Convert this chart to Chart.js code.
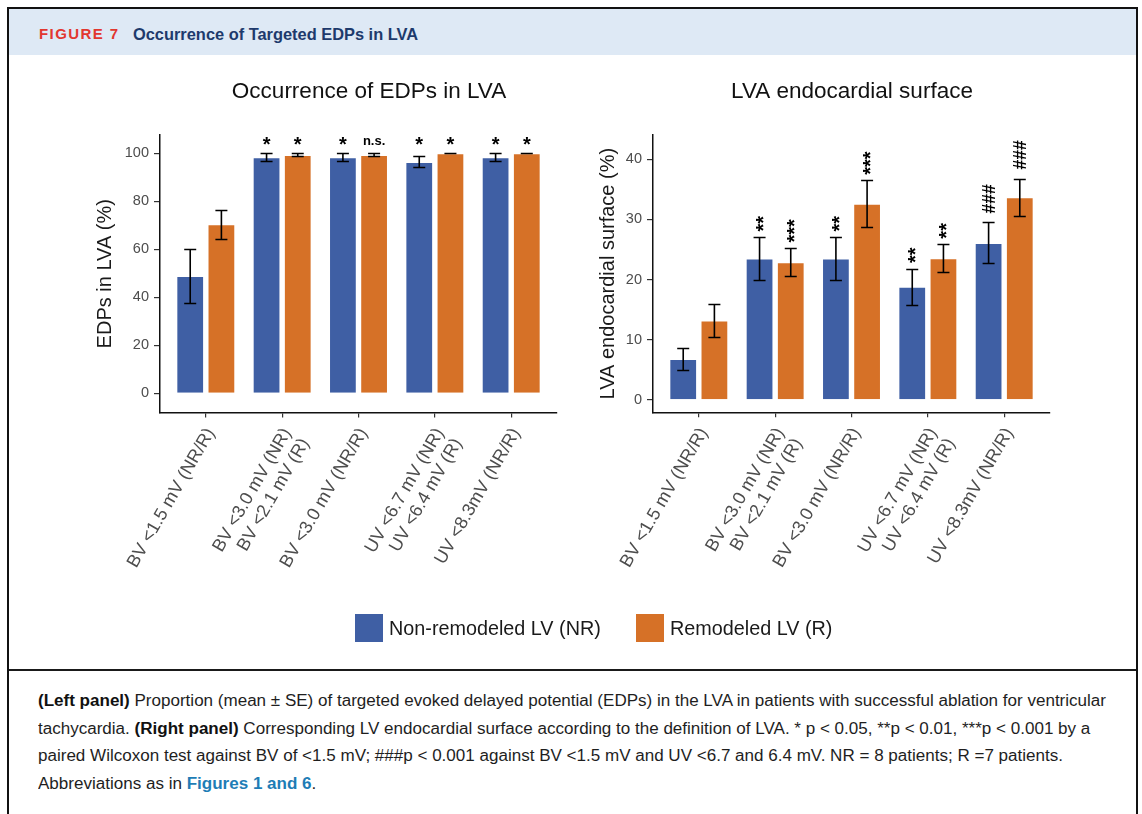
<!DOCTYPE html>
<html>
<head>
<meta charset="utf-8">
<title>Occurrence of Targeted EDPs in LVA</title>
<script src="https://cdn.jsdelivr.net/npm/chart.js@4.4.1/dist/chart.umd.min.js"></script>
<style>
  html, body { margin: 0; padding: 0; background: #fff; }
  #page { position: relative; width: 1142px; height: 814px; overflow: hidden;
          font-family: "Liberation Sans", Arial, sans-serif; }
  #frame { position: absolute; left: 7px; top: 7px; width: 1127px; height: 900px;
           border: 2px solid #111; border-bottom: none; }
  #header { position: absolute; left: 9px; top: 9px; width: 1127px; height: 46px; background: #DEE9F5; }
  #figno { position: absolute; left: 39px; top: 24px; line-height: 20px; font-size: 15px; font-weight: bold;
           letter-spacing: 1.4px; color: #E2372F; white-space: nowrap; }
  #figtitle { position: absolute; left: 133px; top: 23.5px; line-height: 20px; font-size: 16.4px; font-weight: bold;
              color: #1D3A6C; white-space: nowrap; }
  canvas { position: absolute; }
  #cLeft { left: 10px; top: 60px; }
  #cRight { left: 580px; top: 60px; }
  .sw { position: absolute; width: 28px; height: 28px; top: 614px; }
  .lg { position: absolute; top: 616px; line-height: 24px; font-size: 19.8px; color: #1a1a1a; white-space: nowrap; }
  #sep { position: absolute; left: 9px; top: 669px; width: 1127px; height: 1.6px; background: #1a1a1a; }
  .cap { position: absolute; left: 38px; line-height: 20px; font-size: 16px; color: #1e1e1e; white-space: nowrap;
         transform-origin: 0 50%; }
  .cap b { color: #111; }
  .lnk { color: #1E7DB6; font-weight: bold; }
</style>
</head>
<body>
<div id="page">
  <div id="frame"></div>
  <div id="header"></div>
  <div id="figno">FIGURE 7</div>
  <div id="figtitle">Occurrence of Targeted EDPs in LVA</div>

  <canvas id="cLeft" width="570" height="560"></canvas>
  <canvas id="cRight" width="540" height="560"></canvas>

  <div id="legend"></div>

  <div id="sep"></div>
  <div class="cap" id="cap1" style="top:691px"><b>(Left panel)</b> Proportion (mean ± SE) of targeted evoked delayed potential (EDPs) in the LVA in patients with successful ablation for ventricular</div>
  <div class="cap" id="cap2" style="top:718.5px">tachycardia. <b>(Right panel)</b> Corresponding LV endocardial surface according to the definition of LVA. * p &lt; 0.05, **p &lt; 0.01, ***p &lt; 0.001 by a</div>
  <div class="cap" id="cap3" style="top:746px">paired Wilcoxon test against BV of &lt;1.5 mV; ###p &lt; 0.001 against BV &lt;1.5 mV and UV &lt;6.7 and 6.4 mV. NR = 8 patients; R =7 patients.</div>
  <div class="cap" id="cap4" style="top:773.5px">Abbreviations as in <span class="lnk">Figures 1 and 6</span>.</div>
</div>

<script>
// ---- data -------------------------------------------------------------
const categories = [
  ['BV <1.5 mV (NR/R)'],
  ['BV <3.0 mV (NR)', 'BV <2.1 mV (R)'],
  ['BV <3.0 mV (NR/R)'],
  ['UV <6.7 mV (NR)', 'UV <6.4 mV (R)'],
  ['UV <8.3mV (NR/R)']
];
const seriesNames = ['Non-remodeled LV (NR)', 'Remodeled LV (R)'];

// Occurrence of EDPs in LVA (%), mean and SE
const edpNR    = [48.9, 98.3, 98.3, 96.4, 98.3];
const edpNRse  = [11.4, 1.6, 1.6, 2.3, 1.6];
const edpR     = [70.4, 99.3, 99.3, 100, 100];
const edpRse   = [6.1, 0.6, 0.6, 0, 0];
const edpNRsig = ['', '*', '*', '*', '*'];
const edpRsig  = ['', '*', 'n.s.', '*', '*'];
const edpTicks = [0, 20, 40, 60, 80, 100];

// LVA endocardial surface (%), mean and SE
const surfNR    = [6.8, 23.5, 23.5, 18.8, 26.1];
const surfNRse  = [1.85, 3.6, 3.6, 3.05, 3.4];
const surfR     = [13.2, 22.9, 32.6, 23.55, 33.7];
const surfRse   = [2.8, 2.35, 3.9, 2.35, 3.1];
const surfNRsig = ['', '**', '**', '**', '###'];
const surfRsig  = ['', '***', '***', '**', '###'];
const surfTicks = [0, 10, 20, 30, 40];

// ---- styling ----------------------------------------------------------
const FONT = "'Liberation Sans', Arial, sans-serif";
const seriesColors = ['#3F5FA4', '#D67127'];
const tickColor = '#4D4D4D';

// ---- legend -----------------------------------------------------------
(function buildLegend() {
  const lg = document.getElementById('legend');
  const boxX = [355, 636];
  seriesNames.forEach((name, i) => {
    const sw = document.createElement('div');
    sw.className = 'sw';
    sw.style.left = boxX[i] + 'px';
    sw.style.background = seriesColors[i];
    lg.appendChild(sw);
    const tx = document.createElement('div');
    tx.className = 'lg';
    tx.style.left = (boxX[i] + 34) + 'px';
    tx.textContent = name;
    lg.appendChild(tx);
  });
})();

// ---- caption: condense lines to the text column width -----------------
(function fitCaption() {
  const first = document.getElementById('cap1');
  const k = 1068 / first.getBoundingClientRect().width;
  ['cap1', 'cap2', 'cap3', 'cap4'].forEach(id => {
    document.getElementById(id).style.transform = 'scaleX(' + k + ')';
  });
})();

// ---- plugins ----------------------------------------------------------
const errorBars = {
  id: 'errorBars',
  afterDatasetsDraw(chart, args, opts) {
    const { ctx } = chart;
    const y = chart.scales.y;
    ctx.save();
    ctx.strokeStyle = opts.color;
    ctx.lineWidth = opts.width;
    ctx.lineCap = 'butt';
    chart.data.datasets.forEach((ds, i) => {
      chart.getDatasetMeta(i).data.forEach((bar, j) => {
        const m = ds.data[j].y, e = ds.errors[j];
        const yt = Math.round(y.getPixelForValue(m + e)) + 0.5;
        const yb = Math.round(y.getPixelForValue(m - e)) + 0.5;
        const x = bar.x, h = opts.cap / 2;
        ctx.beginPath();
        ctx.moveTo(x, yt); ctx.lineTo(x, yb);
        ctx.moveTo(x - h, yt); ctx.lineTo(x + h, yt);
        ctx.moveTo(x - h, yb); ctx.lineTo(x + h, yb);
        ctx.stroke();
      });
    });
    ctx.restore();
  }
};

function markFont(text) {
  if (/^[*#]+$/.test(text)) return text[0] === '#' ? 'bold 17.5px ' + FONT : 'bold 20px ' + FONT;
  return 'bold 13px ' + FONT;
}

const sigMarks = {
  id: 'sigMarks',
  afterDatasetsDraw(chart, args, opts) {
    const { ctx } = chart;
    const y = chart.scales.y;
    ctx.save();
    ctx.fillStyle = '#000';
    chart.data.datasets.forEach((ds, i) => {
      chart.getDatasetMeta(i).data.forEach((bar, j) => {
        const text = ds.marks[j];
        if (!text) return;
        ctx.font = markFont(text);
        ctx.textBaseline = 'alphabetic';
        const mt = ctx.measureText(text);
        if (opts.mode === 'above') {
          // horizontal label whose ink bottom sits on a common level
          ctx.textAlign = 'center';
          const yb = y.getPixelForValue(opts.level);
          ctx.fillText(text, bar.x, yb - mt.actualBoundingBoxDescent);
        } else {
          // vertical label starting just above the error bar
          const m = ds.data[j].y, e = ds.errors[j];
          const gap = text[0] === '#' ? opts.gapHash : opts.gapStar;
          const y0 = y.getPixelForValue(m + e) - gap;
          ctx.translate(bar.x, y0);
          ctx.rotate(-Math.PI / 2);
          ctx.textAlign = 'left';
          const cy = (mt.actualBoundingBoxAscent - mt.actualBoundingBoxDescent) / 2;
          ctx.fillText(text, mt.actualBoundingBoxLeft, cy);
          ctx.setTransform(1, 0, 0, 1, 0, 0);
        }
      });
    });
    ctx.restore();
  }
};

const panelTitle = {
  id: 'panelTitle',
  afterDraw(chart, args, opts) {
    const { ctx, chartArea } = chart;
    ctx.save();
    ctx.font = opts.size + 'px ' + FONT;
    ctx.fillStyle = '#111';
    ctx.textAlign = 'center';
    ctx.textBaseline = 'alphabetic';
    ctx.fillText(opts.text, (chartArea.left + chartArea.right) / 2 + opts.dx, chartArea.top - opts.gap);
    ctx.restore();
  }
};

// ---- chart factory ----------------------------------------------------
function makePanel(canvasId, cfg) {
  const datasets = [
    { label: seriesNames[0], data: cfg.nr.map((v, i) => ({ x: i + 1, y: v })), errors: cfg.nrSe, marks: cfg.nrSig },
    { label: seriesNames[1], data: cfg.r.map((v, i) => ({ x: i + 1, y: v })), errors: cfg.rSe, marks: cfg.rSig }
  ].map((d, i) => Object.assign(d, {
    backgroundColor: seriesColors[i],
    borderColor: 'rgba(255,255,255,0.55)',
    borderWidth: 1,
    categoryPercentage: 0.817,
    barPercentage: 0.89
  }));

  return new Chart(document.getElementById(canvasId), {
    type: 'bar',
    data: { datasets },
    plugins: [errorBars, sigMarks, panelTitle],
    options: {
      responsive: false,
      animation: false,
      layout: { padding: { top: 75, right: cfg.padRight, left: 0, bottom: 0 } },
      scales: {
        x: {
          type: 'linear',
          min: 0.4, max: 5.6,
          offset: false,
          afterBuildTicks: s => { s.ticks = categories.map((c, i) => ({ value: i + 1 })); },
          afterFit: s => { s.height = cfg.xHeight; },
          grid: { offset: false, drawOnChartArea: false, drawTicks: true, tickLength: 5, color: '#333', lineWidth: 1.2 },
          border: { display: true, color: '#111', width: 1.5 },
          ticks: {
            callback: v => categories[Math.round(v) - 1],
            minRotation: 60, maxRotation: 60, autoSkip: false,
            padding: 7, labelOffset: 5,
            color: tickColor,
            font: { family: FONT, size: 18, lineHeight: 1.16 }
          }
        },
        y: {
          min: cfg.yMin, max: cfg.yMax,
          afterBuildTicks: s => { s.ticks = cfg.ticks.map(v => ({ value: v })); },
          afterFit: s => { s.width = cfg.yWidth; },
          grid: { drawOnChartArea: false, drawTicks: true, tickLength: 6, color: '#333', lineWidth: 1.2 },
          border: { display: true, color: '#111', width: 1.5 },
          ticks: { padding: 5, color: tickColor, font: { family: FONT, size: 14.5 } },
          title: {
            display: true, text: cfg.yTitle, color: '#1a1a1a',
            font: { family: FONT, size: 20 },
            padding: { top: cfg.yTitlePad, bottom: 0 }
          }
        }
      },
      plugins: {
        legend: { display: false },
        tooltip: { enabled: false },
        errorBars: { color: '#000', width: 1.6, cap: 12 },
        sigMarks: cfg.marks,
        panelTitle: { text: cfg.title, size: 22.5, dx: cfg.titleDx, gap: 37 }
      }
    }
  });
}

makePanel('cLeft', {
  nr: edpNR, nrSe: edpNRse, nrSig: edpNRsig,
  r: edpR, rSe: edpRse, rSig: edpRsig,
  ticks: edpTicks, yMin: -8, yMax: 107.6,
  yTitle: 'EDPs in LVA (%)', yTitlePad: 83, yWidth: 150,
  xHeight: 207.5, padRight: 23,
  title: 'Occurrence of EDPs in LVA', titleDx: 10.5,
  marks: { mode: 'above', level: 103.3 }
});

makePanel('cRight', {
  nr: surfNR, nrSe: surfNRse, nrSig: surfNRsig,
  r: surfR, rSe: surfRse, rSig: surfRsig,
  ticks: surfTicks, yMin: -2.05, yMax: 44.04,
  yTitle: 'LVA endocardial surface (%)', yTitlePad: 16, yWidth: 73,
  xHeight: 207.7, padRight: 70,
  title: 'LVA endocardial surface', titleDx: 0.5,
  marks: { mode: 'rotated', gapStar: 5.5, gapHash: 9 }
});
</script>
</body>
</html>
